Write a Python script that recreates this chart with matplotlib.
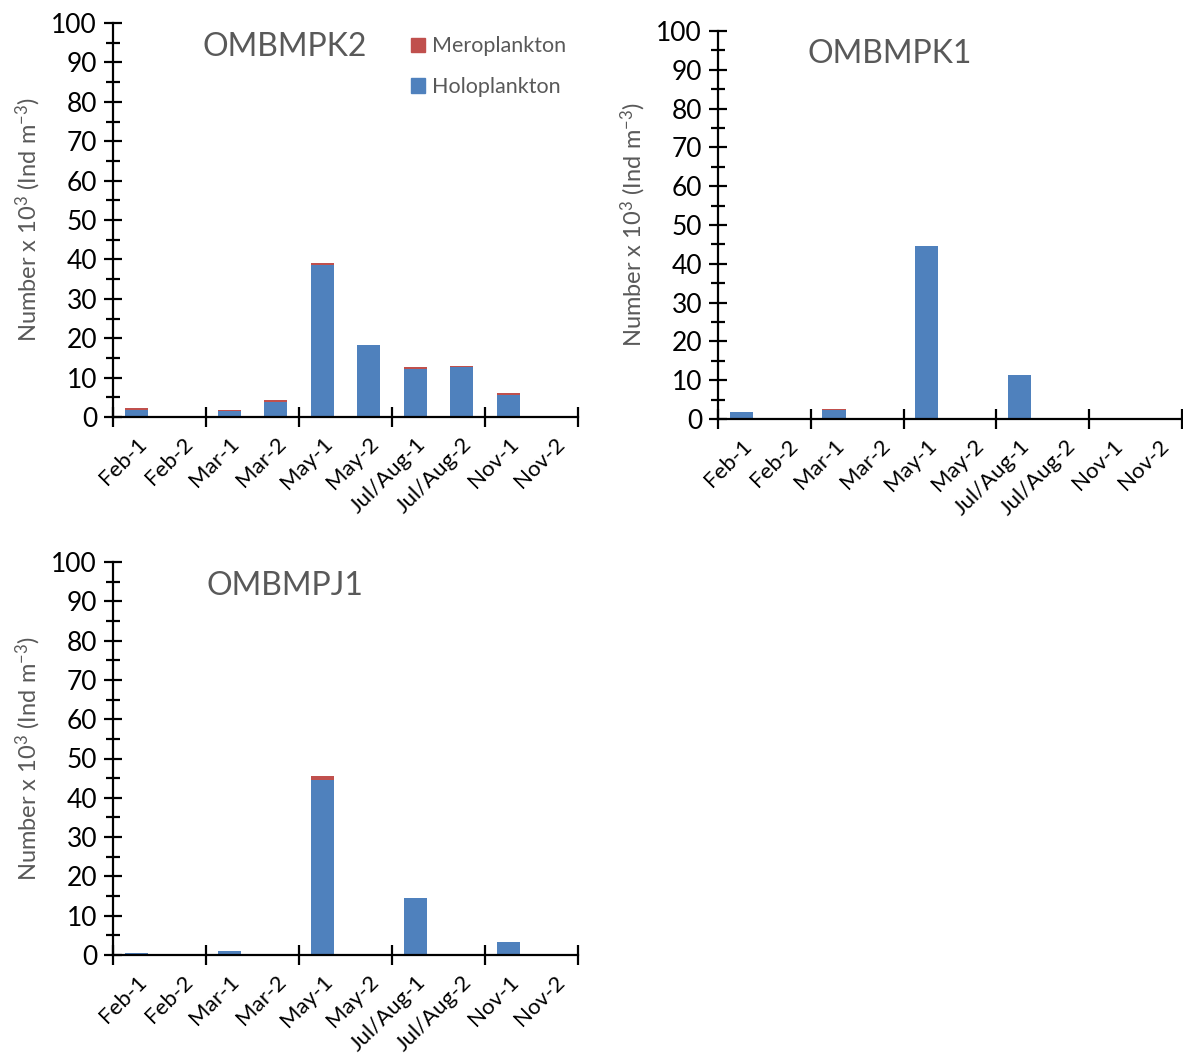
import matplotlib
matplotlib.use("Agg")
import matplotlib.pyplot as plt
from matplotlib.patches import Patch
from matplotlib.ticker import MultipleLocator
import numpy as np

plt.rcParams['font.family'] = ['Lato', 'DejaVu Sans']
plt.rcParams['mathtext.fontset'] = 'custom'
plt.rcParams['mathtext.rm'] = 'Lato'
plt.rcParams['mathtext.it'] = 'Lato:italic'
plt.rcParams['mathtext.bf'] = 'Lato:bold'
plt.rcParams['mathtext.default'] = 'regular'

categories = ["Feb-1", "Feb-2", "Mar-1", "Mar-2", "May-1", "May-2",
              "Jul/Aug-1", "Jul/Aug-2", "Nov-1", "Nov-2"]

# Abundance (x 10^3 ind m^-3) per station
k2_holo = [1.8, 0, 1.5, 3.8, 38.6, 18.2, 12.2, 12.8, 5.7, 0]
k2_mero = [0.4, 0, 0.2, 0.4, 0.4, 0.2, 0.5, 0.1, 0.3, 0]

k1_holo = [1.8, 0, 2.2, 0, 44.6, 0, 11.3, 0, 0, 0]
k1_mero = [0.0, 0, 0.5, 0, 0.1, 0, 0.1, 0, 0, 0]

j1_holo = [0.6, 0, 1.0, 0, 44.5, 0, 14.4, 0, 3.2, 0]
j1_mero = [0.0, 0, 0.1, 0, 1.0, 0, 0.1, 0, 0.1, 0]

HOLO = "#4F81BD"
MERO = "#C0504D"
GREY = "#595959"

W, H = 1183, 1056
fig = plt.figure(figsize=(W / 100, H / 100), dpi=100)


def px_axes(x0, x1, y_top, y_bot):
    return fig.add_axes([x0 / W, 1 - y_bot / H, (x1 - x0) / W, (y_bot - y_top) / H])


def draw_panel(ax, holo, mero, title):
    x = np.arange(len(categories))
    ax.bar(x, holo, width=0.5, color=HOLO, zorder=2)
    ax.bar(x, mero, width=0.5, bottom=holo, color=MERO, zorder=2)
    ax.set_xlim(-0.5, len(categories) - 0.5)
    ax.set_ylim(0, 100)
    for s in ("top", "right"):
        ax.spines[s].set_visible(False)
    for s in ("left", "bottom"):
        ax.spines[s].set_linewidth(1.6)
        ax.spines[s].set_color("black")
    # y axis: major every 10, minor every 5, ticks crossing the axis
    ax.yaxis.set_major_locator(MultipleLocator(10))
    ax.yaxis.set_minor_locator(MultipleLocator(5))
    ax.tick_params(axis="y", which="major", direction="inout", length=13,
                   width=1.6, labelsize=19, pad=5, colors="black")
    ax.tick_params(axis="y", which="minor", direction="inout", length=10,
                   width=1.6)
    # x axis: tick marks between pairs of sampling categories
    ax.set_xticks(np.arange(-0.5, len(categories), 2))
    ax.set_xticklabels([])
    ax.tick_params(axis="x", which="major", direction="inout", length=15,
                   width=1.6)
    ax.set_xticks(x, minor=True)
    ax.set_xticklabels(categories, minor=True, rotation=45, ha="right",
                       rotation_mode="anchor", fontsize=16)
    ax.tick_params(axis="x", which="minor", length=0, pad=12)
    ax.set_ylabel("Number x 10$^{3}$ (Ind m$^{-3}$)", color=GREY, fontsize=17,
                  labelpad=6)
    ax.text(0.37, 0.94, title, transform=ax.transAxes, ha="center",
            va="center", fontsize=23, color=GREY)


ax1 = px_axes(113, 578, 23, 417)
draw_panel(ax1, k2_holo, k2_mero, "OMBMPK2")
handles = [Patch(color=MERO, label="Meroplankton"),
           Patch(color=HOLO, label="Holoplankton")]
leg = ax1.legend(handles=handles, loc="upper left", bbox_to_anchor=(0.6, 1.015),
                 frameon=False, fontsize=15.5, handlelength=0.65,
                 handleheight=0.65, handletextpad=0.3, labelspacing=0.95)
for t in leg.get_texts():
    t.set_color(GREY)

ax2 = px_axes(718, 1182, 31, 419)
draw_panel(ax2, k1_holo, k1_mero, "OMBMPK1")

ax3 = px_axes(113, 578, 562, 955)
draw_panel(ax3, j1_holo, j1_mero, "OMBMPJ1")

fig.savefig("out.png", dpi=100)
